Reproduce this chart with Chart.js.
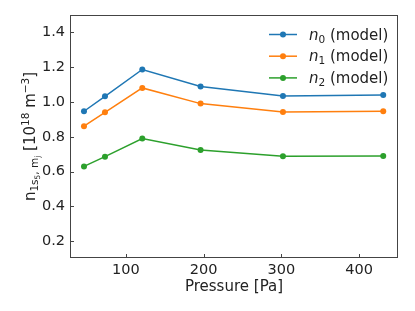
<!DOCTYPE html>
<html lang="en">
<head>
  <meta charset="UTF-8">
  <title>Density vs pressure</title>
  <style>
    body { margin: 0; background: #fff; }
    #wrap { width: 415px; height: 311px; }
  </style>
</head>
<body>
  <div id="wrap"><canvas id="myCanvas" width="415" height="311"></canvas></div>

<script src="https://cdn.jsdelivr.net/npm/chart.js"></script>
<script>
  // values
  const pressure = [46, 73, 121, 196, 302, 431];
  const n0 = [0.947, 1.033, 1.187, 1.089, 1.035, 1.041];
  const n1 = [0.861, 0.941, 1.081, 0.991, 0.943, 0.947];
  const n2 = [0.630, 0.686, 0.790, 0.724, 0.688, 0.690];
  const xTicks = [100, 200, 300, 400];
  const yTicks = [0.2, 0.4, 0.6, 0.8, 1.0, 1.2, 1.4];
  const seriesNames = ['0', '1', '2'];
  const colors = ['#1f77b4', '#ff7f0e', '#2ca02c'];

  const FONT = 'DejaVu Sans';

  function toPoints(ys) {
    return pressure.map((p, i) => ({ x: p, y: ys[i] }));
  }

  function makeSet(ys, i) {
    return {
      label: 'n' + seriesNames[i] + ' (model)',
      data: toPoints(ys),
      borderColor: colors[i],
      backgroundColor: colors[i],
      borderWidth: 1.5,
      pointRadius: 3,
      pointHoverRadius: 3,
      pointBorderWidth: 0,
      tension: 0
    };
  }

  // text runs: [text, size, dy, italic]
  function measureRuns(ctx, runs) {
    let w = 0;
    runs.forEach(r => {
      ctx.font = (r[3] ? 'italic ' : '') + r[1] + 'px ' + FONT;
      w += ctx.measureText(r[0]).width;
    });
    return w;
  }
  function paintRuns(ctx, runs, x, y) {
    let cx = x;
    runs.forEach(r => {
      ctx.font = (r[3] ? 'italic ' : '') + r[1] + 'px ' + FONT;
      ctx.fillText(r[0], cx, y + r[2]);
      cx += ctx.measureText(r[0]).width;
    });
  }

  const extras = {
    id: 'extras',
    afterDraw(chart) {
      const ctx = chart.ctx;
      const a = chart.chartArea;
      ctx.save();

      // frame
      ctx.strokeStyle = '#444';
      ctx.lineWidth = 1;
      ctx.strokeRect(Math.round(a.left) + 0.5, Math.round(a.top) + 0.5,
        Math.round(a.right - a.left) - 1, Math.round(a.bottom - a.top) - 1);

      // inward ticks
      const xs = chart.scales.x, ys = chart.scales.y;
      ctx.beginPath();
      xTicks.forEach(v => {
        const px = Math.round(xs.getPixelForValue(v)) + 0.5;
        ctx.moveTo(px, a.bottom);
        ctx.lineTo(px, a.bottom - 4);
      });
      yTicks.forEach(v => {
        const py = Math.round(ys.getPixelForValue(v)) + 0.5;
        ctx.moveTo(a.left, py);
        ctx.lineTo(a.left + 4, py);
      });
      ctx.stroke();

      ctx.fillStyle = '#222';
      ctx.textBaseline = 'alphabetic';

      // x title
      ctx.font = '15px ' + FONT;
      ctx.textAlign = 'center';
      ctx.fillText('Pressure [Pa]', (a.left + a.right) / 2, 291);

      // y title, rotated
      ctx.textAlign = 'left';
      const yRuns = [
        ['n', 15, 0], ['1s', 10.5, 3], ['5', 7.5, 5], [', m', 10.5, 3], ['j', 7.5, 5],
        [' [10', 15, 0], ['18', 10.5, -6], [' m', 15, 0], ['\u22123', 10.5, -6], [']', 15, 0]
      ];
      const w = measureRuns(ctx, yRuns);
      ctx.translate(35, (a.top + a.bottom) / 2);
      ctx.rotate(-Math.PI / 2);
      paintRuns(ctx, yRuns, -w / 2, 0);
      ctx.setTransform(1, 0, 0, 1, 0, 0);

      // legend
      chart.data.datasets.forEach((ds, i) => {
        const ly = a.top + 19.5 + i * 21.7;
        const lx = a.right - 129;
        ctx.strokeStyle = ds.borderColor;
        ctx.lineWidth = 1.5;
        ctx.beginPath();
        ctx.moveTo(lx, ly);
        ctx.lineTo(lx + 28, ly);
        ctx.stroke();
        ctx.fillStyle = ds.borderColor;
        ctx.beginPath();
        ctx.arc(lx + 14, ly, 3, 0, Math.PI * 2);
        ctx.fill();
        ctx.fillStyle = '#222';
        paintRuns(ctx, [['n', 15, 0, true], [seriesNames[i], 10.5, 3], [' (model)', 15, 0]], lx + 40, ly + 5);
      });

      ctx.restore();
    }
  };

  const ctx = document.getElementById('myCanvas').getContext('2d');
  const chart = new Chart(ctx, {
    type: 'line',
    data: {
      datasets: [makeSet(n0, 0), makeSet(n1, 1), makeSet(n2, 2)]
    },
    options: {
      responsive: false,
      animation: false,
      events: [],
      layout: { padding: { left: 0, top: 15, right: 17, bottom: 0 } },
      plugins: { legend: { display: false }, tooltip: { enabled: false } },
      scales: {
        x: {
          type: 'linear',
          min: 28,
          max: 450,
          grid: { display: false, drawTicks: false },
          border: { display: false },
          afterBuildTicks: s => { s.ticks = xTicks.map(v => ({ value: v })); },
          afterFit: s => { s.height = 53; },
          ticks: {
            padding: 4,
            color: '#222',
            font: { family: FONT, size: 14.5 },
            callback: v => String(v)
          }
        },
        y: {
          min: 0.104,
          max: 1.5,
          grid: { display: false, drawTicks: false },
          border: { display: false },
          afterBuildTicks: s => { s.ticks = yTicks.map(v => ({ value: v })); },
          afterFit: s => { s.width = 70; },
          ticks: {
            padding: 5,
            color: '#222',
            font: { family: FONT, size: 14.5 },
            callback: v => Number(v).toFixed(1)
          }
        }
      }
    },
    plugins: [extras]
  });
</script>
</body>
</html>
